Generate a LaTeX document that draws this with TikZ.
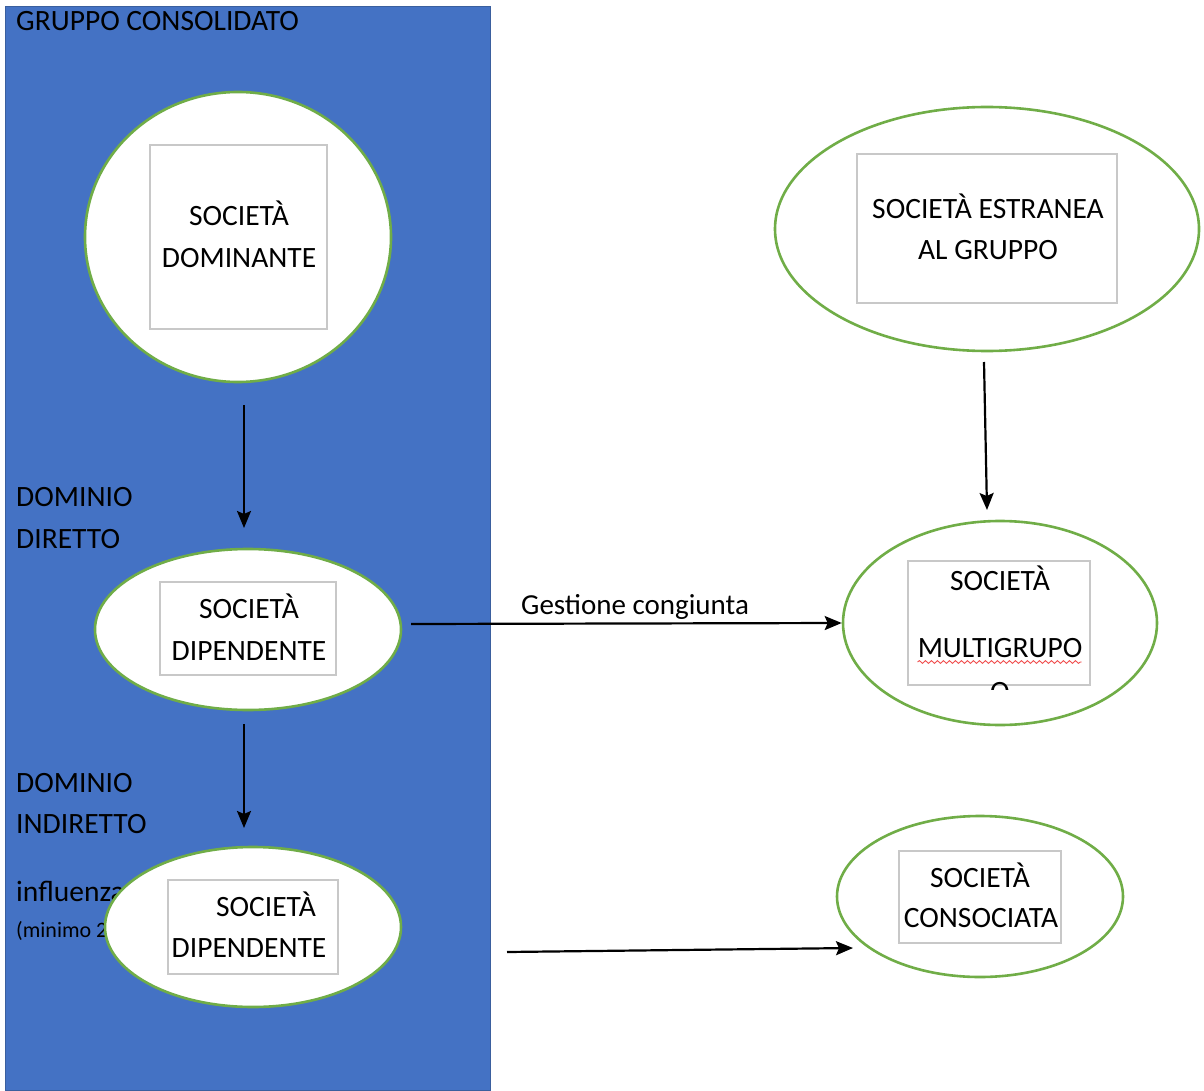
\documentclass[tikz,border=0pt]{standalone}
\usepackage{fontspec}
\setmainfont{Carlito}
\usetikzlibrary{shapes.geometric,arrows.meta,decorations.pathmorphing}
\definecolor{panelblue}{HTML}{4472C4}
\definecolor{panelrim}{HTML}{3A5F9E}
\definecolor{ringgreen}{HTML}{70AD47}
\definecolor{boxgray}{HTML}{C8C8C8}
\definecolor{spellred}{HTML}{F05050}
\tikzset{
  company/.style={ellipse, draw=ringgreen, line width=2.6pt, fill=white, inner sep=0pt},
  textbox/.style={draw=boxgray, line width=1.1pt, fill=white, inner sep=0pt},
  word/.style={anchor=base, inner sep=0pt, font=\fontsize{29.5}{34}\selectfont},
  sideword/.style={anchor=base west, inner sep=0pt, font=\fontsize{29.5}{34}\selectfont},
  link/.style={line width=2.2pt, -{Stealth[length=17pt,width=14pt,inset=3pt]}},
}
\begin{document}
\begin{tikzpicture}[x=1pt,y=-1pt]
\useasboundingbox (0,0) rectangle (1204,1091);
% consolidated group panel
\node[draw=panelrim, line width=1pt, fill=panelblue, minimum width=485pt, minimum height=1084pt, inner sep=0pt, anchor=north west] (panel) at (5,6) {};
\node[sideword] (title) at (16,31) {GRUPPO CONSOLIDATO};
\node[sideword] (dd1) at (16,506) {DOMINIO};
\node[sideword] (dd2) at (16,548) {DIRETTO};
\node[sideword] (di1) at (16,792) {DOMINIO};
\node[sideword] (di2) at (16,833) {INDIRETTO};
\node[sideword] (inf1) at (16,901) {influenza};
\node[anchor=base west, inner sep=0pt, font=\fontsize{22}{26}\selectfont] (inf2) at (16,937) {(minimo 2};

% dominant company
\node[company, minimum width=306pt, minimum height=290pt] (dom) at (238,237) {};
\node[textbox, minimum width=177pt, minimum height=184pt] (domb) at (238.5,237) {};
\node[word] (domt1) at (239,226) {SOCIETÀ};
\node[word] (domt2) at (239,268) {DOMINANTE};

% first subsidiary
\node[company, minimum width=306pt, minimum height=161pt] (dip1) at (248,629.5) {};
\node[textbox, minimum width=176pt, minimum height=93pt] (dip1b) at (248,628.5) {};
\node[word] (dip1t1) at (249,618) {SOCIETÀ};
\node[word] (dip1t2) at (249,660) {DIPENDENTE};

% second subsidiary
\node[company, minimum width=296pt, minimum height=160pt] (dip2) at (253,927) {};
\node[textbox, minimum width=170pt, minimum height=94pt] (dip2b) at (253,927) {};
\node[word] (dip2t1) at (266,916) {SOCIETÀ};
\node[word] (dip2t2) at (249,957) {DIPENDENTE};

% external company
\node[company, minimum width=424pt, minimum height=244pt] (est) at (987,229) {};
\node[textbox, minimum width=260pt, minimum height=149pt] (estb) at (987,228.5) {};
\node[word] (estt1) at (988,219) {SOCIETÀ ESTRANEA};
\node[word] (estt2) at (988,260) {AL GRUPPO};

% joint venture
\node[company, minimum width=314pt, minimum height=204pt] (mul) at (1000,623) {};
\node[textbox, minimum width=182pt, minimum height=124pt] (mulb) at (999,623) {};
\node[word] (mult1) at (1000,590) {SOCIETÀ};
\node[word] (mult2) at (1000,657) {MULTIGRUPO};
\draw[spellred, line width=0.9pt, decorate, decoration={snake, amplitude=1.4pt, segment length=6pt}] (mult2.base west) ++(0,5) -- ++(164,0);
\begin{scope}
  \clip (908,561) rectangle (1090,689);
  \node[word] (mult3) at (1000,701) {O};
\end{scope}

% associated company
\node[company, minimum width=286pt, minimum height=161pt] (con) at (980,896.5) {};
\node[textbox, minimum width=162pt, minimum height=92pt] (conb) at (980,897) {};
\node[word] (cont1) at (980,887) {SOCIETÀ};
\node[word] (cont2) at (981,927) {CONSOCIATA};

% connectors
\coordinate (a1s) at (244,405);
\coordinate (a1e) at (244,528);
\coordinate (a2s) at (244,724);
\coordinate (a2e) at (244,828);
\coordinate (a3s) at (984,362);
\coordinate (a3e) at (987,510);
\coordinate (a4s) at (411,624);
\coordinate (a5s) at (507,952);
\coordinate (a5e) at (853,948);
\draw[link] (a1s) -- (a1e);
\draw[link] (a2s) -- (a2e);
\draw[link] (a3s) -- (a3e);
\draw[link] (a4s) -- (mul.west);
\draw[link] (a5s) -- (a5e);
\node[anchor=base west, inner sep=0pt, font=\fontsize{29}{33}\selectfont] (gest) at (521,614) {Gestione congiunta};
\end{tikzpicture}
\end{document}
